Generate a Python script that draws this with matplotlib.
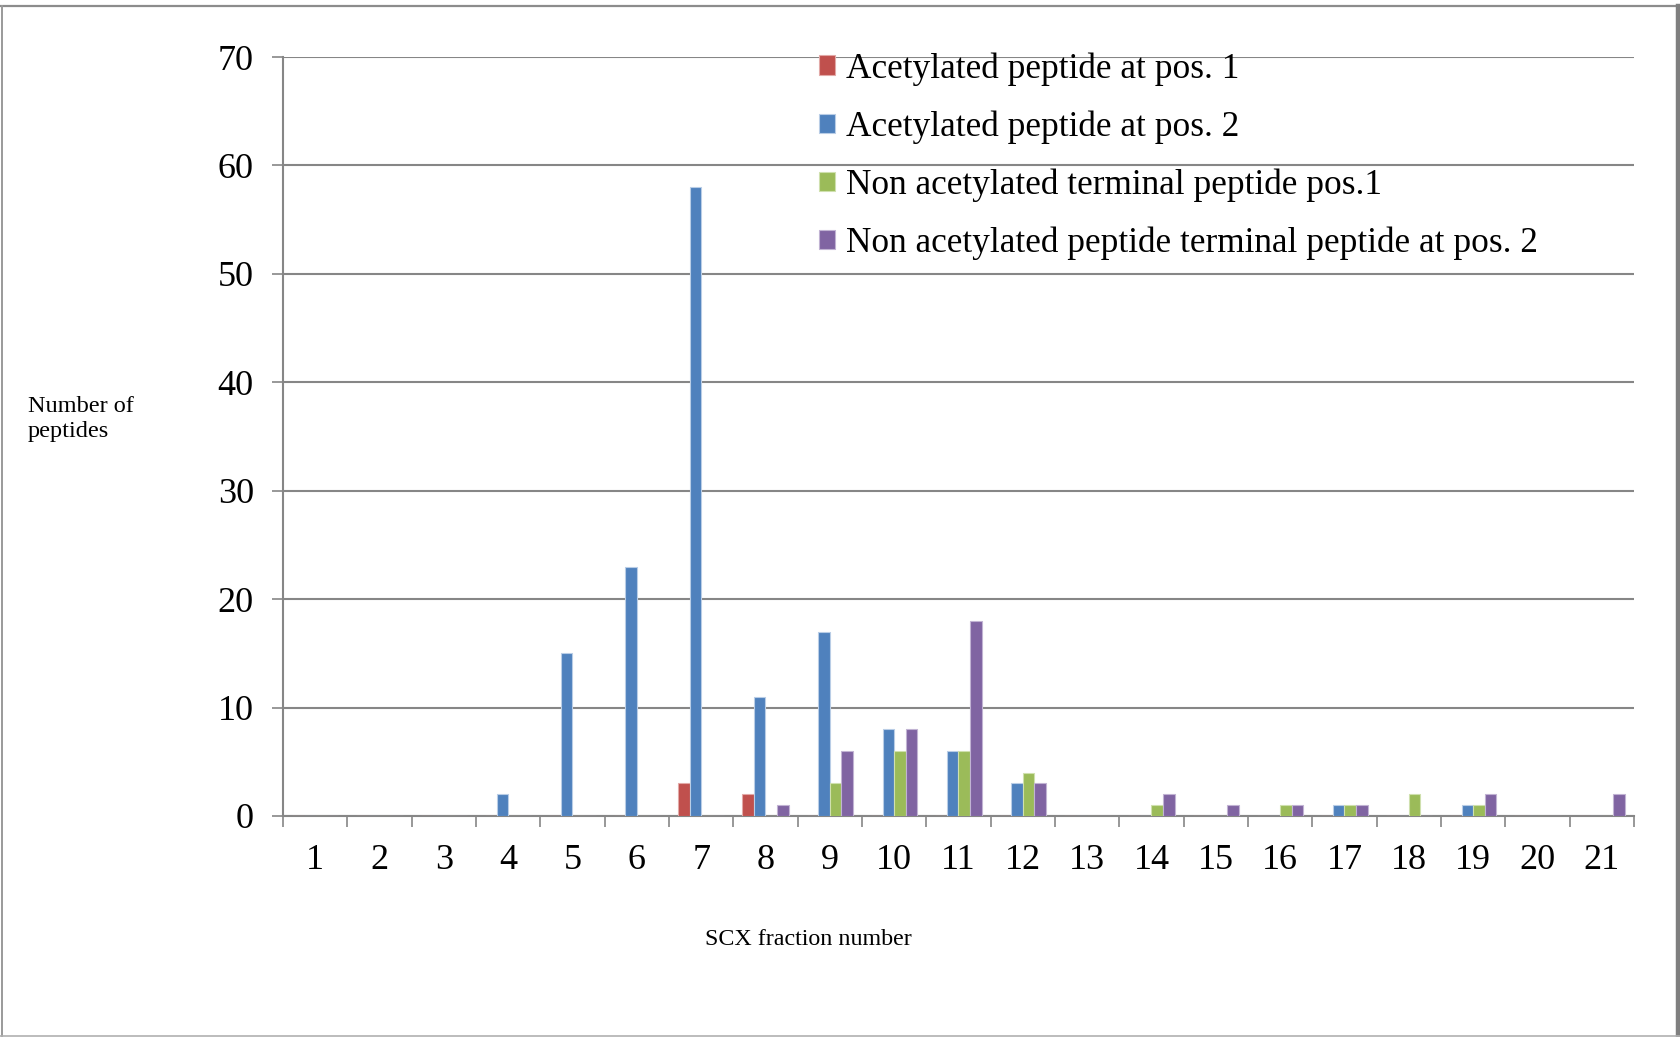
import numpy as np
import matplotlib
matplotlib.use('Agg')
import matplotlib.pyplot as plt
from matplotlib.patches import Patch
from matplotlib.lines import Line2D

plt.rcParams['font.family'] = ['Liberation Serif', 'DejaVu Serif']

# SCX fractions and peptide counts per series
fractions = list(range(1, 22))
acetyl_pos1 = [0, 0, 0, 0, 0, 0, 3, 2, 0, 0, 0, 0, 0, 0, 0, 0, 0, 0, 0, 0, 0]
acetyl_pos2 = [0, 0, 0, 2, 15, 23, 58, 11, 17, 8, 6, 3, 0, 0, 0, 0, 1, 0, 1, 0, 0]
nonacetyl_pos1 = [0, 0, 0, 0, 0, 0, 0, 0, 3, 6, 6, 4, 0, 1, 0, 1, 1, 2, 1, 0, 0]
nonacetyl_pos2 = [0, 0, 0, 0, 0, 0, 0, 1, 6, 8, 18, 3, 0, 2, 1, 1, 1, 0, 2, 0, 2]

series_names = ['Acetylated peptide at pos. 1',
                'Acetylated peptide at pos. 2',
                'Non acetylated terminal peptide pos.1',
                'Non acetylated peptide terminal peptide at pos. 2']
series_colors = ['#C0504D', '#4F81BD', '#9BBB59', '#8064A2']
edge_colors = ['#e2a9a7', '#b9cde6', '#cfe0ae', '#c1b3d3']
y_ticks = [0, 10, 20, 30, 40, 50, 60, 70]

W, H = 1681, 1037
fig = plt.figure(figsize=(W / 100, H / 100), dpi=100)

# plot area in pixel terms
x0, x1 = 283, 1634
ytop, ybot = 57, 816
ax = fig.add_axes([x0 / W, 1 - ybot / H, (x1 - x0) / W, (ybot - ytop) / H])

grey = '#868686'
x = np.arange(len(fractions))
bw = 0.179
all_series = [acetyl_pos1, acetyl_pos2, nonacetyl_pos1, nonacetyl_pos2]
for i, vals in enumerate(all_series):
    off = (i - 1.5) * bw
    ax.bar(x + off, vals, width=bw, color=series_colors[i],
           edgecolor=edge_colors[i], linewidth=0.8, zorder=3)

ax.set_xlim(-0.5, len(fractions) - 0.5)
ax.set_ylim(0, 70)

ax.set_yticks(y_ticks)
ax.yaxis.grid(True, color=grey, linewidth=1.5, zorder=0)
ax.tick_params(axis='y', length=8, width=1.2, color=grey, labelsize=26, pad=13)

# category labels at centres, tick marks between categories
ax.set_xticks(x)
ax.set_xticklabels([str(f) for f in fractions])
ax.set_xticks(np.arange(-0.5, len(fractions)), minor=True)
ax.tick_params(axis='x', which='major', length=0, labelsize=26, pad=20)
ax.tick_params(axis='x', which='minor', length=8, width=1.2, color=grey)

for side in ['top', 'right']:
    ax.spines[side].set_visible(False)
for side in ['left', 'bottom']:
    ax.spines[side].set_color(grey)
    ax.spines[side].set_linewidth(1.5)

handles = [Patch(facecolor=c, edgecolor=e, linewidth=0.8)
           for c, e in zip(series_colors, edge_colors)]
fig.legend(handles, series_names, loc='upper left',
           bbox_to_anchor=(805 / W, 1 - 38 / H), frameon=False,
           fontsize=25.4, handlelength=0.46, handleheight=0.46,
           handletextpad=0.3, labelspacing=0.7, borderaxespad=0)

fig.text(28 / W, 1 - 419 / H, 'Number of\npeptides', fontsize=17.5,
         ha='left', va='center', linespacing=1.25)
fig.text(808 / W, 1 - 945 / H, 'SCX fraction number', fontsize=17.3,
         ha='center', va='baseline')

# outer frame of the chart object
fig.add_artist(Line2D([0, 1], [1 - 6 / H, 1 - 6 / H], color='#8c8c8c', lw=1.6))
fig.add_artist(Line2D([2 / W, 2 / W], [0, 1 - 6 / H], color='#9a9a9a', lw=1.4))
fig.add_artist(Line2D([1678.5 / W, 1678.5 / W], [0, 1 - 6 / H], color='#7f7f7f', lw=3.2))
fig.add_artist(Line2D([0, 1], [1 / H, 1 / H], color='#b0b0b0', lw=1.2))

fig.savefig('out.png', dpi=100, facecolor='white')
